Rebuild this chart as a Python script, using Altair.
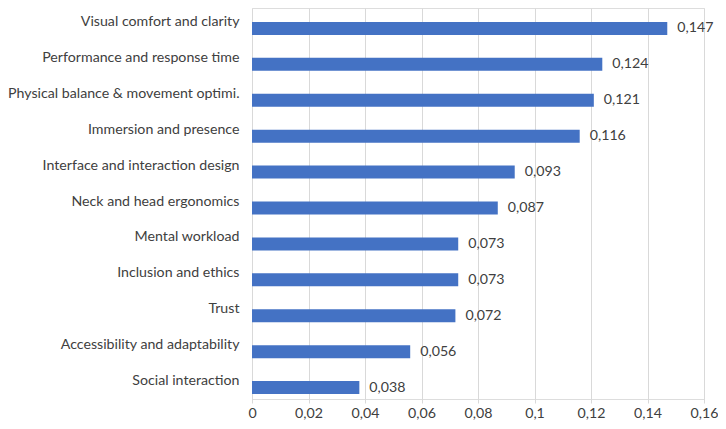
import altair as alt
import pandas as pd

categories = [
    "Visual comfort and clarity ",
    "Performance and response time",
    "Physical balance & movement optimi.",
    "Immersion and presence",
    "Interface and interaction design",
    "Neck and head ergonomics",
    "Mental workload",
    "Inclusion and ethics",
    "Trust",
    "Accessibility and adaptability",
    "Social interaction",
]
values = [0.147, 0.124, 0.121, 0.116, 0.093, 0.087, 0.073, 0.073, 0.072, 0.056, 0.038]
x_ticks = [0, 0.02, 0.04, 0.06, 0.08, 0.1, 0.12, 0.14, 0.16]

df = pd.DataFrame({"cat": categories, "val": values})

FONT = "Lato"
TXT = "#404040"
FS = 14.2

y_enc = alt.Y(
    "cat:N",
    sort=categories,
    scale=alt.Scale(range=[-4, 391], paddingInner=0, paddingOuter=0),
    axis=alt.Axis(
        title=None, ticks=False, domain=False, grid=False,
        labelFont=FONT, labelFontSize=FS, labelColor=TXT, labelPadding=13,
        labelLimit=400,
    ),
)
x_enc = alt.X(
    "val:Q",
    scale=alt.Scale(domain=[0, 0.16], nice=False),
    axis=alt.Axis(
        title=None, values=x_ticks, ticks=False, domain=False,
        grid=True, gridColor="#d9d9d9", gridWidth=1,
        labelFont=FONT, labelFontSize=FS, labelColor=TXT, labelPadding=7,
        labelExpr="replace(toString(datum.value), '.', ',')",
        labelFlush=False,
    ),
)

base = alt.Chart(df)
bars = base.mark_bar(color="#4472C4", size=13, yOffset=6.5).encode(x=x_enc, y=y_enc)
labels = base.transform_calculate(
    lab="replace(format(datum.val, '.3f'), '.', ',')"
).mark_text(
    align="left", baseline="middle", dx=10, yOffset=6.5,
    font=FONT, fontSize=FS, color=TXT,
).encode(x=alt.X("val:Q"), y=alt.Y("cat:N", sort=categories), text="lab:N")

chart = (
    alt.layer(bars, labels)
    .properties(width=452, height=391, autosize=alt.AutoSizeParams(type="none"),
                padding={"left": 244, "top": 0, "right": 14, "bottom": 28})
    .configure_view(stroke=None)
    .configure(background="white")
)

chart.save("out.html", embed_options={"renderer": "svg", "actions": False})
